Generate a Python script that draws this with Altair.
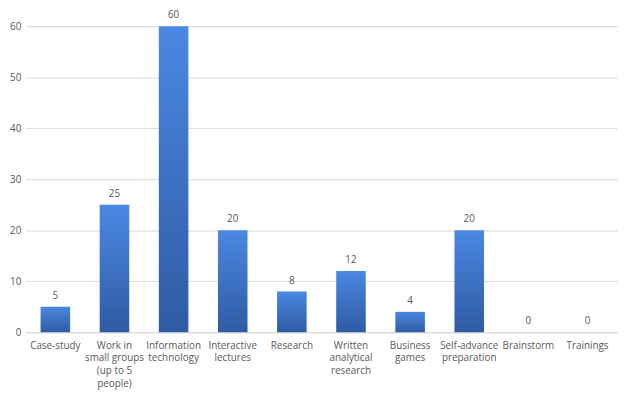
import altair as alt
import pandas as pd

categories = ["Case-study", "Work in|small groups|(up to 5|people)", "Information|technology",
              "Interactive|lectures", "Research", "Written|analytical|research", "Business|games",
              "Self-advance|preparation", "Brainstorm", "Trainings"]
values = [5, 25, 60, 20, 8, 12, 4, 20, 0, 0]

df = pd.DataFrame({"cat": categories, "val": values})

FONT = "Open Sans"
TXT = "#595959"

x = alt.X("cat:N", sort=categories, title=None,
          scale=alt.Scale(paddingInner=0.5, paddingOuter=0.25),
          axis=alt.Axis(labelAngle=0, labelExpr="split(datum.label, '|')", labelFont=FONT,
                        labelFontSize=10, labelColor=TXT, labelLineHeight=13, ticks=False,
                        domainColor="#d9d9d9", labelPadding=8, labelBaseline="top"))
y = alt.Y("val:Q", title=None, scale=alt.Scale(domain=[0, 60], nice=False),
          axis=alt.Axis(values=[0, 10, 20, 30, 40, 50, 60], labelFont=FONT, labelFontSize=10,
                        labelColor=TXT, domain=False, ticks=False, gridColor="#d9d9d9",
                        labelPadding=5))

bars = alt.Chart(df).mark_bar(
    color=alt.Gradient(gradient="linear", x1=0, y1=0, x2=0, y2=1,
                       stops=[alt.GradientStop(color="#4a88e2", offset=0),
                              alt.GradientStop(color="#2f5ba3", offset=1)])
).encode(x=x, y=y)

text = alt.Chart(df).mark_text(baseline="bottom", dy=-6, font=FONT, fontSize=10, color=TXT).encode(
    x=alt.X("cat:N", sort=categories), y="val:Q", text="val:Q")

chart = (bars + text).properties(
    width=599, height=310,
    autosize=alt.AutoSizeParams(type="none"),
    padding={"left": 18, "top": 16, "right": 5, "bottom": 56}
).configure_view(stroke=None)

chart.save("out.html", embed_options={"renderer": "svg", "actions": False})
